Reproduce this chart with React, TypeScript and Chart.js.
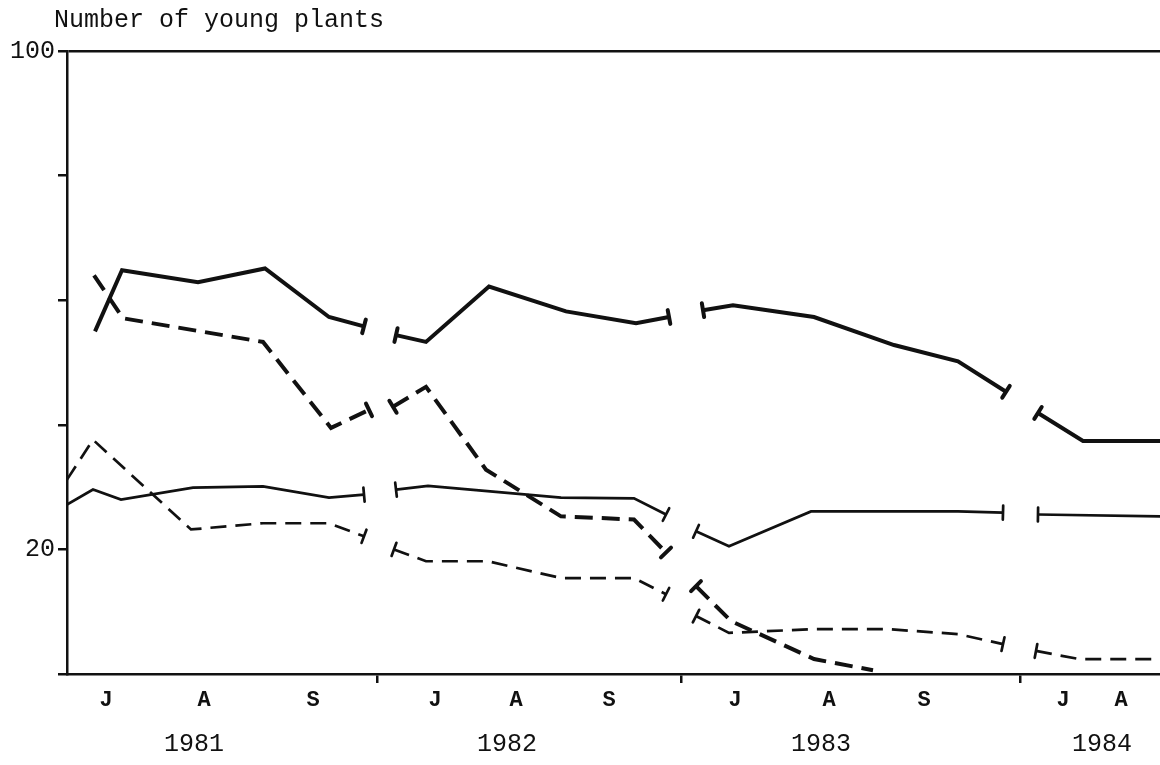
import { useEffect, useRef } from "react";
import { Chart, registerables } from "chart.js";

Chart.register(...registerables);

// x values: position along the seasonal time axis (arbitrary time units)
const YEAR_BREAKS = [31.0, 61.4, 95.3];
const MONTH_TICKS = [3.9, 13.7, 24.6, 36.8, 44.9, 54.2, 66.8, 76.2, 85.7, 99.6, 105.4];
const MONTH_LABELS = ["J", "A", "S", "J", "A", "S", "J", "A", "S", "J", "A"];
const YEAR_TICKS = [12.7, 44.0, 75.4, 103.5];
const YEAR_LABELS = ["1981", "1982", "1983", "1984"];
const Y_TICKS = [0, 20, 40, 60, 80, 100];
const Y_LABELLED = [20, 100];

const G1 = YEAR_BREAKS[0];
const G2 = YEAR_BREAKS[1];
const G3 = YEAR_BREAKS[2];

const thickSolidX = [2.8, 5.5, 13.1, 19.8, 26.2, 29.7, G1, 32.9, 35.9, 42.2, 49.9, 56.9, 60.2, G2, 63.6, 66.6, 74.7, 82.7, 89.1, 93.9, G3, 97.1, 101.6, 109.4];
const thickSolidY = [55.0, 64.8, 62.9, 65.1, 57.3, 55.8, null, 54.4, 53.3, 62.2, 58.2, 56.3, 57.3, null, 58.4, 59.2, 57.3, 52.8, 50.2, 45.3, null, 41.9, 37.4, 37.4];

const thickDashX = [2.7, 5.6, 19.6, 26.4, 30.2, G1, 32.6, 35.9, 41.9, 49.4, 56.7, 59.9, G2, 62.9, 66.4, 74.7, 80.6];
const thickDashY = [64.0, 57.1, 53.3, 39.5, 42.4, null, 42.9, 46.1, 32.8, 25.3, 24.8, 19.5, null, 14.1, 8.5, 2.4, 0.6];

const thinSolidX = [0, 2.6, 5.4, 12.6, 19.6, 26.2, 29.7, G1, 32.9, 36.1, 49.4, 56.7, 59.9, G2, 62.9, 66.2, 74.4, 89.1, 93.6, G3, 97.1, 109.4];
const thinSolidY = [27.2, 29.6, 28.0, 29.9, 30.1, 28.3, 28.8, null, 29.6, 30.2, 28.3, 28.2, 25.6, null, 22.9, 20.5, 26.1, 26.1, 25.9, null, 25.6, 25.3];

const thinDashX = [0, 2.6, 12.4, 19.6, 26.2, 29.7, G1, 32.7, 35.9, 42.1, 49.4, 56.7, 59.9, G2, 62.9, 66.2, 74.7, 82.1, 89.1, 93.6, G3, 96.9, 101.2, 109.4];
const thinDashY = [31.2, 37.6, 23.2, 24.2, 24.2, 22.1, null, 20.0, 18.1, 18.1, 15.4, 15.4, 12.8, null, 9.3, 6.6, 7.2, 7.2, 6.4, 4.8, null, 3.7, 2.4, 2.4];

const TITLE = "Number of young plants";
const INK = "#111111";
const FONT = "'Liberation Mono', 'DejaVu Sans Mono', monospace";

function pts(xs: number[], ys: (number | null)[]) {
  return xs.map((x, i) => ({ x, y: ys[i] }));
}

const breakMarks = {
  id: "breakMarks",
  afterDatasetsDraw(chart: any) {
    const ctx = chart.ctx;
    chart.data.datasets.forEach((ds: any, di: number) => {
      const meta = chart.getDatasetMeta(di);
      const els = meta.data;
      const d = ds.data;
      const n = d.length;
      ctx.save();
      ctx.strokeStyle = INK;
      ctx.lineWidth = ds.borderWidth;
      ctx.setLineDash([]);
      ctx.lineCap = "round";
      for (let i = 0; i < n; i++) {
        if (d[i].y === null) continue;
        let other = -1;
        if (i > 0 && d[i - 1].y === null) other = i + 1;
        else if (i < n - 1 && d[i + 1].y === null) other = i - 1;
        if (other < 0 || other >= n || d[other].y === null) continue;
        const p = els[i];
        const q = els[other];
        const dx = q.x - p.x;
        const dy = q.y - p.y;
        const len = Math.hypot(dx, dy) || 1;
        const nx = -dy / len;
        const ny = dx / len;
        const h = 7;
        ctx.beginPath();
        ctx.moveTo(p.x + nx * h, p.y + ny * h);
        ctx.lineTo(p.x - nx * h, p.y - ny * h);
        ctx.stroke();
      }
      ctx.restore();
    });
  },
};

const titleText = {
  id: "titleText",
  afterDraw(chart: any) {
    const ctx = chart.ctx;
    ctx.save();
    ctx.fillStyle = INK;
    ctx.font = `25px ${FONT}`;
    ctx.textAlign = "left";
    ctx.textBaseline = "middle";
    ctx.fillText(TITLE, 54, 20);
    ctx.restore();
  },
};

export default function App() {
  const ref = useRef<HTMLCanvasElement | null>(null);

  useEffect(() => {
    if (!ref.current) return;
    const common = { pointRadius: 0, tension: 0, fill: false, spanGaps: false, borderColor: INK };
    const chart = new Chart(ref.current, {
      type: "line",
      data: {
        datasets: [
          { ...common, label: "thick solid", data: pts(thickSolidX, thickSolidY), borderWidth: 4 },
          { ...common, label: "thick dashed", data: pts(thickDashX, thickDashY), borderWidth: 4, borderDash: [18, 9] },
          { ...common, label: "thin solid", data: pts(thinSolidX, thinSolidY), borderWidth: 2.7 },
          { ...common, label: "thin dashed", data: pts(thinDashX, thinDashY), borderWidth: 2.7, borderDash: [16, 9] },
        ] as any,
      },
      options: {
        animation: false,
        responsive: false,
        maintainAspectRatio: false,
        layout: { padding: { top: 51, left: 0, right: 0, bottom: 0 } },
        plugins: { legend: { display: false }, tooltip: { enabled: false }, title: { display: false } },
        scales: {
          x: {
            type: "linear",
            position: "bottom",
            min: 0,
            max: 109.3,
            afterBuildTicks: (scale: any) => {
              const vals = [...MONTH_TICKS, ...YEAR_BREAKS].sort((a, b) => a - b);
              scale.ticks = vals.map((v) => ({ value: v }));
            },
            afterFit: (scale: any) => {
              scale.height = 45;
            },
            ticks: {
              autoSkip: false,
              maxRotation: 0,
              padding: 4,
              color: INK,
              font: { family: FONT, size: 22, weight: "bold" },
              callback: (v: any) => {
                const i = MONTH_TICKS.indexOf(v);
                return i >= 0 ? MONTH_LABELS[i] : "";
              },
            },
            grid: {
              display: true,
              drawOnChartArea: false,
              drawTicks: true,
              tickLength: 9,
              lineWidth: 2.5,
              tickColor: (c: any) => (YEAR_BREAKS.includes(c.tick?.value) ? INK : "rgba(0,0,0,0)"),
            },
            border: { display: true, color: INK, width: 2.5 },
          },
          x2: {
            type: "linear",
            position: "bottom",
            min: 0,
            max: 109.3,
            afterBuildTicks: (scale: any) => {
              scale.ticks = YEAR_TICKS.map((v) => ({ value: v }));
            },
            afterFit: (scale: any) => {
              scale.height = 46;
            },
            ticks: {
              autoSkip: false,
              maxRotation: 0,
              padding: 10,
              color: INK,
              font: { family: FONT, size: 25 },
              callback: (v: any) => {
                const i = YEAR_TICKS.indexOf(v);
                return i >= 0 ? YEAR_LABELS[i] : "";
              },
            },
            grid: { display: false, drawTicks: false },
            border: { display: false },
          },
          y: {
            type: "linear",
            min: 0,
            max: 100,
            afterBuildTicks: (scale: any) => {
              scale.ticks = Y_TICKS.map((v) => ({ value: v }));
            },
            afterFit: (scale: any) => {
              scale.width = 67;
            },
            ticks: {
              padding: 3,
              color: INK,
              font: { family: FONT, size: 25 },
              callback: (v: any) => (Y_LABELLED.includes(v) ? String(v) : ""),
            },
            grid: {
              display: true,
              drawOnChartArea: true,
              drawTicks: true,
              tickLength: 9,
              lineWidth: 2.5,
              color: (c: any) => (c.tick?.value === 100 ? INK : "rgba(0,0,0,0)"),
              tickColor: INK,
            },
            border: { display: true, color: INK, width: 2.5 },
          },
        },
      } as any,
      plugins: [breakMarks, titleText],
    });
    return () => chart.destroy();
  }, []);

  return (
    <div style={{ position: "fixed", left: 0, top: 0, width: 1160, height: 765, background: "#fff" }}>
      <canvas ref={ref} width={1160} height={765} style={{ display: "block", width: 1160, height: 765 }} />
    </div>
  );
}
